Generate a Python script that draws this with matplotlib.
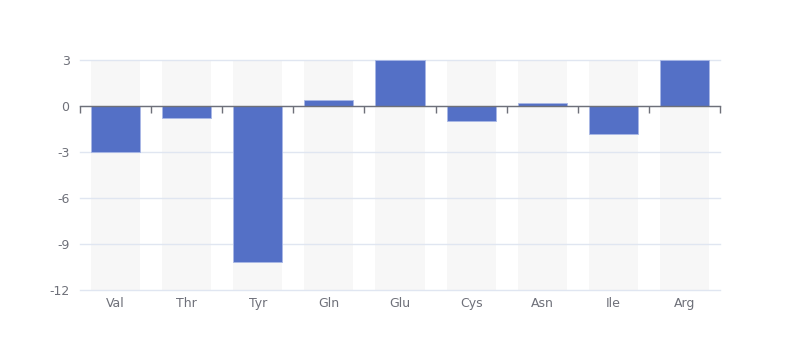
import matplotlib.pyplot as plt

categories = ['Val', 'Thr', 'Tyr', 'Gln', 'Glu', 'Cys', 'Asn', 'Ile', 'Arg']
values = [-3.0, -0.8, -10.2, 0.4, 3.0, -1.0, 0.2, -1.8, 3.0]
y_ticks = [-12, -9, -6, -3, 0, 3]

y_min, y_max = y_ticks[0], y_ticks[-1]
x = list(range(len(categories)))

fig = plt.figure(figsize=(8, 3.6), dpi=100)
ax = fig.add_axes([0.1, 0.1944, 0.8, 0.6389])

# grey background columns behind each bar
ax.bar(x, [y_max - y_min] * len(x), bottom=y_min, width=0.69,
       color='#f7f7f7', zorder=0)
ax.bar(x, values, width=0.69, color='#5470c6', edgecolor='#a9b8e6',
       linewidth=0.6, zorder=2)

ax.set_xlim(-0.5, len(x) - 0.5)
ax.set_ylim(y_min, y_max)

ax.set_yticks(y_ticks)
ax.set_yticklabels([str(t) for t in y_ticks])
ax.set_axisbelow(True)
ax.yaxis.grid(True, color='#e0e6f1', linewidth=1)
for gl in ax.get_ygridlines():
    gl.set_clip_on(False)

ax.set_xticks(x)
ax.set_xticklabels(categories)
ax.tick_params(axis='x', length=0, pad=5, labelsize=9, labelcolor='#6e7079')
ax.tick_params(axis='y', length=0, pad=7.5, labelsize=9, labelcolor='#6e7079')

for s in ax.spines.values():
    s.set_visible(False)

# category axis line sits on zero
zero_ax = ax.secondary_xaxis(0, transform=ax.transData)
zero_ax.set_xticks([i - 0.5 for i in range(len(x) + 1)])
zero_ax.set_xticklabels([])
zero_ax.tick_params(axis='x', length=5, width=1, color='#6e7079', direction='out')
zero_ax.spines['bottom'].set_color('#6e7079')
zero_ax.spines['bottom'].set_linewidth(1)
zero_ax.set_zorder(3)

plt.savefig('out.png', dpi=100)
